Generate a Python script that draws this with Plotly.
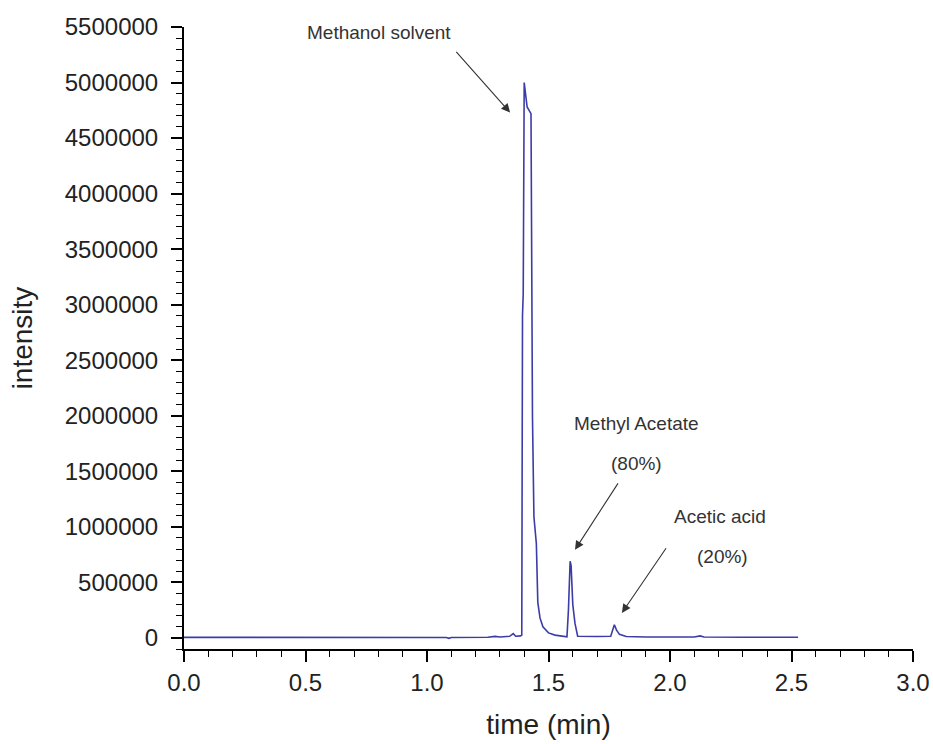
import plotly.graph_objects as go

# Chromatogram trace (time in min, intensity)
time_min = [0.000, 0.300, 0.600, 0.900, 1.080, 1.090, 1.100, 1.250, 1.280, 1.300,
            1.320, 1.340, 1.355, 1.365, 1.385, 1.390, 1.393, 1.396, 1.400, 1.405,
            1.412, 1.428, 1.434, 1.440, 1.450, 1.456, 1.465, 1.477, 1.500, 1.527,
            1.576, 1.582, 1.589, 1.593, 1.600, 1.609, 1.620, 1.700, 1.756, 1.771,
            1.780, 1.792, 1.820, 1.900, 2.000, 2.100, 2.124, 2.140, 2.300, 2.450,
            2.480, 2.510, 2.527]
intensity = [5000, 5000, 5000, 5000, 4000, -4000, 4000, 6000, 14000, 8000,
             12000, 14000, 38000, 15000, 18000, 25000, 2900000, 3100000, 5000000, 4900000,
             4780000, 4720000, 2000000, 1090000, 850000, 320000, 180000, 100000, 45000, 25000,
             10000, 250000, 690000, 650000, 300000, 130000, 15000, 12000, 15000, 118000,
             70000, 32000, 12000, 8000, 8000, 8000, 18000, 8000, 6000, 6000,
             12000, 8000, 6000]

# Peak labels: text, text position, arrow tail, arrow tip
label_texts = ["Methanol solvent", "Methyl Acetate", "(80%)", "Acetic acid", "(20%)"]
label_t = [0.802, 1.864, 1.864, 2.206, 2.214]
label_v = [5450000, 1928000, 1568000, 1090000, 730000]

arrow_tail_t = [1.115, 1.790, 1.988]
arrow_tail_v = [5290000, 1405000, 820000]
arrow_tip_t = [1.342, 1.609, 1.802]
arrow_tip_v = [4730000, 793000, 225000]

x_ticks = [0.0, 0.5, 1.0, 1.5, 2.0, 2.5, 3.0]
y_ticks = list(range(0, 5500001, 500000))

FONT = "Liberation Sans, Arial, sans-serif"

fig = go.Figure()
fig.add_trace(go.Scatter(
    x=time_min, y=intensity, mode="lines",
    line=dict(color="#3c3ca8", width=1.6),
    showlegend=False, hoverinfo="x+y"))

annotations = []
for txt, t, v in zip(label_texts, label_t, label_v):
    annotations.append(dict(x=t, y=v, xref="x", yref="y", text=txt, showarrow=False,
                            font=dict(family=FONT, size=19, color="#333333")))
for tt, tv, ht, hv in zip(arrow_tail_t, arrow_tail_v, arrow_tip_t, arrow_tip_v):
    annotations.append(dict(x=ht, y=hv, ax=tt, ay=tv, xref="x", yref="y", axref="x", ayref="y",
                            text="", showarrow=True, arrowhead=2, arrowsize=1.6, arrowwidth=1.1,
                            arrowcolor="#333333", standoff=0))

axis_font = dict(family=FONT, size=24, color="#222222")
fig.update_layout(
    width=933, height=744,
    paper_bgcolor="white", plot_bgcolor="white",
    margin=dict(l=184, r=20, t=27, b=95, autoexpand=False),
    font=dict(family=FONT, color="#222222"),
    annotations=annotations,
    xaxis=dict(
        range=[0, 3.0], tickvals=x_ticks, ticktext=[f"{v:.1f}" for v in x_ticks],
        showgrid=False, zeroline=False, showline=True, linecolor="black", linewidth=2,
        ticks="outside", ticklen=11, tickwidth=1.5, tickcolor="black",
        minor=dict(dtick=0.1, ticks="outside", ticklen=6, tickwidth=1.2, tickcolor="black", showgrid=False),
        tickfont=axis_font, ticklabelstandoff=0, ticklabeloverflow="allow",
        title=dict(text="time (min)", font=dict(family=FONT, size=28, color="#222222"), standoff=20),
        automargin=False,
    ),
    yaxis=dict(
        range=[-100000, 5500000], tickvals=y_ticks, ticktext=[str(v) for v in y_ticks],
        showgrid=False, zeroline=False, showline=True, linecolor="black", linewidth=2,
        ticks="outside", ticklen=11, tickwidth=1.5, tickcolor="black",
        minor=dict(dtick=100000, ticks="outside", ticklen=6, tickwidth=1.2, tickcolor="black", showgrid=False),
        tickfont=axis_font, ticklabelstandoff=8,
        title=dict(text="intensity", font=dict(family=FONT, size=28, color="#222222"), standoff=24),
        automargin=False,
    ),
)

fig.write_html(
    "out.html",
    config={"displayModeBar": False},
    post_script="document.body.style.margin='0';document.body.style.overflow='hidden';"
                "document.documentElement.style.overflow='hidden';",
)
